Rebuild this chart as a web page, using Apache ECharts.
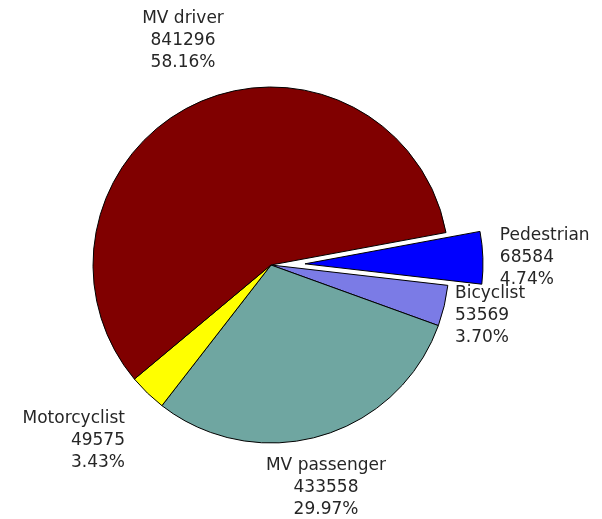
<!DOCTYPE html>
<html lang="en">

<head>
    <meta charset="utf-8">
    <title>Victims by type</title>
    <script src="https://cdn.jsdelivr.net/npm/echarts@6/dist/echarts.min.js"></script>
    <style>
        html,
        body {
            margin: 0;
            padding: 0;
            background: #fff;
        }
        
        #pie {
            width: 602px;
            height: 519px;
        }
    </style>
</head>

<body>
    <div id="pie"></div>
    <script>
        // order is clockwise starting from the pedestrian slice
        var categories = ['Pedestrian', 'Bicyclist', 'MV passenger', 'Motorcyclist', 'MV driver'];
        var counts = [68584, 53569, 433558, 49575, 841296];
        var colors = ['#0000ff', '#7b7be6', '#6fa6a1', '#ffff00', '#800000'];

        // label anchors (x, y, alignment). the exploded slice (index 0) keeps
        // the pie's own outside placement, its select state overrides x/y anyway
        var labelSpots = [
            null,
            { x: 455, y: 316, align: 'left' },
            { x: 326, y: 488, align: 'center' },
            { x: 125, y: 441, align: 'right' },
            { x: 183, y: 41, align: 'center' }
        ];

        var pieData = categories.map(function(name, i) {
            var item = {
                name: name,
                value: counts[i],
                itemStyle: {
                    color: colors[i]
                }
            };
            if (i === 0) {
                item.selected = true;
                item.labelLine = { show: false, length: 17, length2: 0 };
            }
            return item;
        });

        var option = {
            backgroundColor: '#fff',
            animation: false,
            series: [{
                type: 'pie',
                center: [271, 265],
                radius: 178,
                startAngle: 10.5,
                clockwise: true,
                selectedMode: 'single',
                selectedOffset: 34,
                emphasis: {
                    disabled: true
                },
                itemStyle: {
                    borderColor: '#000',
                    borderWidth: 1
                },
                label: {
                    show: true,
                    position: 'outside',
                    color: '#262626',
                    fontFamily: 'DejaVu Sans, sans-serif',
                    fontSize: 17,
                    lineHeight: 22,
                    width: 160,
                    overflow: 'none',
                    distanceToLabelLine: 0,
                    formatter: function(p) {
                        return p.name + '\n' + p.value + '\n' + p.percent.toFixed(2) + '%';
                    }
                },
                labelLine: {
                    show: false
                },
                labelLayout: function(params) {
                    var s = labelSpots[params.dataIndex];
                    if (!s) {
                        return {};
                    }
                    return {
                        x: s.x,
                        y: s.y,
                        align: s.align,
                        verticalAlign: 'middle'
                    };
                },
                percentPrecision: 2,
                data: pieData
            }]
        };
        var piechart = echarts.init(document.getElementById('pie'));
        piechart.setOption(option);
    </script>
</body>

</html>
